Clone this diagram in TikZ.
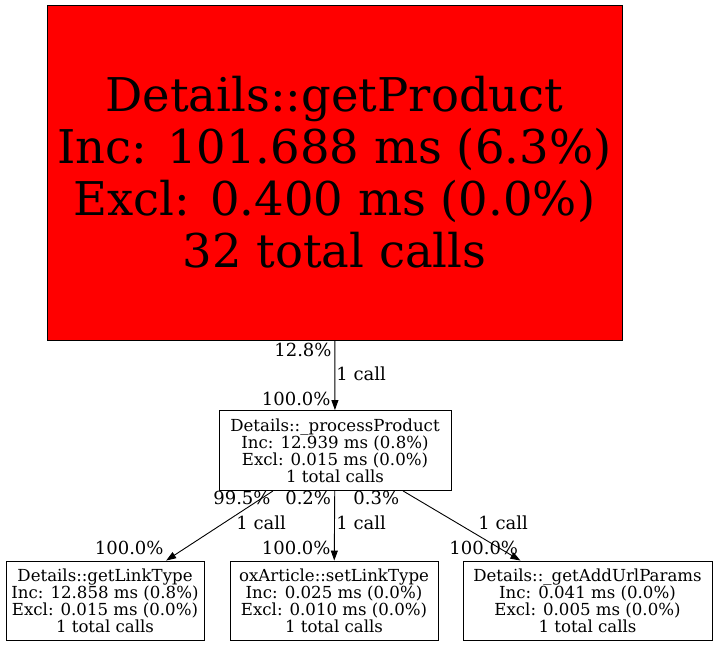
\documentclass[tikz,border=0pt]{standalone}
\usepackage{fontspec}
\setmainfont{DejaVu Serif}
\usepackage{xcolor}
\usepackage{tikz}
\usetikzlibrary{arrows.meta}

\begin{document}
\begin{tikzpicture}[x=1pt,y=-1pt,>={Triangle[length=10pt,width=7pt]},line width=0.9pt,
	fn/.style={draw,rectangle,align=center,inner sep=0pt,font=\fontsize{16.6}{16.9}\selectfont},
	hot/.style={fn,fill=red,font=\fontsize{46.5}{52}\selectfont},
	lbl/.style={inner sep=0pt,font=\fontsize{18}{20}\selectfont}]
	\useasboundingbox (0,0) rectangle (717,645);
	\node[hot,minimum width=575pt,minimum height=335pt] (getProduct) at (334.5,172.5)
	{Details::getProduct\\Inc: 101.688 ms (6.3\%)\\Excl: 0.400 ms (0.0\%)\\32 total calls};
	\node[fn,minimum width=232pt,minimum height=80pt] (processProduct) at (335,450.5)
	{Details::\_processProduct\\Inc: 12.939 ms (0.8\%)\\Excl: 0.015 ms (0.0\%)\\1 total calls};
	\node[fn,minimum width=198pt,minimum height=79pt] (getLinkType) at (105,600.5)
	{Details::getLinkType\\Inc: 12.858 ms (0.8\%)\\Excl: 0.015 ms (0.0\%)\\1 total calls};
	\node[fn,minimum width=208pt,minimum height=79pt] (setLinkType) at (334,600.5)
	{oxArticle::setLinkType\\Inc: 0.025 ms (0.0\%)\\Excl: 0.010 ms (0.0\%)\\1 total calls};
	\node[fn,minimum width=249pt,minimum height=79pt] (getAddUrlParams) at (587.5,600.5)
	{Details::\_getAddUrlParams\\Inc: 0.041 ms (0.0\%)\\Excl: 0.005 ms (0.0\%)\\1 total calls};
	
	\path[->]
	(getProduct) edge (processProduct)
	(processProduct) edge (getLinkType)
	edge (setLinkType)
	edge (getAddUrlParams);
	
	% edge labels
	\node[lbl,anchor=east] (t1) at (332,350) {12.8\%};
	\node[lbl,anchor=west] (m1) at (336,374) {1 call};
	\node[lbl,anchor=east] (h1) at (331,399) {100.0\%};
	\node[lbl,anchor=east] (t2) at (271,498) {99.5\%};
	\node[lbl,anchor=west] (m2) at (236,523) {1 call};
	\node[lbl,anchor=east] (h2) at (164,547.5) {100.0\%};
	\node[lbl,anchor=east] (t3) at (331.5,498) {0.2\%};
	\node[lbl,anchor=west] (m3) at (336,523) {1 call};
	\node[lbl,anchor=east] (h3) at (331,547.5) {100.0\%};
	\node[lbl,anchor=west] (t4) at (353,498) {0.3\%};
	\node[lbl,anchor=west] (m4) at (478,523) {1 call};
	\node[lbl,anchor=west] (h4) at (449,547.5) {100.0\%};
\end{tikzpicture}
\end{document}
